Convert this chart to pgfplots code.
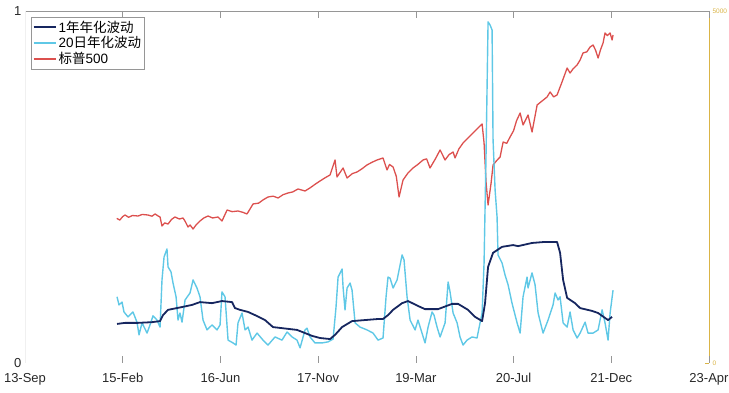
\documentclass[border=0pt]{standalone}
\usepackage{fontspec}
\setmainfont{Liberation Sans}
\newfontfamily\cjk{Noto Sans CJK SC}
\usepackage{pgfplots}
\pgfplotsset{compat=1.18}
\definecolor{navy}{RGB}{22,38,95}
\definecolor{lblue}{RGB}{95,200,230}
\definecolor{sred}{RGB}{220,80,78}
\definecolor{ryel}{RGB}{218,180,70}
\definecolor{axg}{RGB}{150,150,150}
\definecolor{txt}{RGB}{40,40,40}
\begin{document}
\begin{tikzpicture}
\begin{axis}[
  width=684pt,height=352pt,scale only axis,
  xmin=0,xmax=7,ymin=0,ymax=5000,
  axis x line=none, axis y line*=right,
  axis line style={ryel, line width=0.7pt},
  ytick={0,5000}, tick align=inside, major tick length=4pt,
  ytick style={ryel},
  yticklabel style={font=\fontsize{6.5}{7}\selectfont, text=ryel},
  /pgf/number format/1000 sep={}, /pgf/number format/assume math mode=true,
]
\addplot[sred, line width=1.3pt, line join=round] coordinates {
(0.939,2055)(0.97,2030)(1.00,2080)(1.024,2102)(1.06,2070)(1.10,2095)(1.157,2088)(1.20,2110)(1.259,2102)(1.30,2085)
(1.331,2117)(1.36,2090)(1.382,2074)(1.402,1946)(1.43,1990)(1.464,1974)
(1.50,2040)(1.535,2074)(1.58,2045)(1.617,2060)(1.64,2010)(1.668,1932)(1.69,1960)(1.720,1903)(1.75,1960)(1.791,2017)
(1.83,2060)(1.873,2088)(1.92,2060)(1.975,2074)(2.016,2017)
(2.068,2173)(2.12,2150)(2.180,2159)(2.23,2140)(2.272,2117)(2.334,2259)(2.39,2270)(2.44,2320)(2.487,2358)(2.54,2370)(2.590,2344)
(2.64,2390)(2.692,2415)(2.74,2430)(2.794,2472)
(2.866,2443)(2.92,2490)(2.97,2540)(3.019,2585)(3.07,2630)(3.122,2671)(3.173,2884)(3.193,2642)(3.255,2770)(3.296,2628)(3.35,2690)(3.398,2713)
(3.45,2760)(3.500,2813)(3.55,2850)(3.603,2884)(3.664,2912)(3.705,2742)(3.73,2820)(3.767,2784)(3.80,2650)(3.828,2358)(3.869,2600)(3.92,2700)(3.971,2770)
(4.02,2820)(4.074,2884)(4.11,2900)(4.145,2770)(4.20,2900)(4.248,3026)(4.299,2884)(4.34,2960)(4.381,2997)(4.401,2912)(4.44,3040)(4.483,3125)(4.53,3190)(4.585,3267)
(4.63,3330)(4.678,3395)(4.698,3125)(4.719,2557)(4.739,2244)(4.770,2557)(4.790,2813)(4.83,2880)(4.862,2926)(4.893,3139)
(4.93,3120)(4.964,3210)(5.00,3300)(5.03,3440)(5.067,3551)(5.097,3381)(5.148,3523)(5.189,3281)(5.241,3665)(5.29,3720)(5.343,3779)(5.374,3850)
(5.41,3780)(5.445,3807)(5.496,3992)(5.548,4190)(5.578,4119)(5.61,4180)(5.650,4233)(5.681,4304)(5.711,4404)(5.75,4420)(5.783,4489)
(5.814,4517)(5.84,4440)(5.865,4332)(5.89,4450)(5.916,4546)(5.936,4688)(5.96,4650)(5.988,4688)(6.008,4588)(6.018,4659)
};
\end{axis}
\begin{axis}[
  width=684pt,height=352pt,scale only axis,
  xmin=0,xmax=7,ymin=0,ymax=1,
  axis line style={draw=none},
  xtick={0,...,7},
  xticklabels={13-Sep,15-Feb,16-Jun,17-Nov,19-Mar,20-Jul,21-Dec,23-Apr},
  ytick={0,1}, ytick style={draw=none},
  tick align=inside, major tick length=7pt, xtick style={axg, line width=0.6pt},
  ticklabel style={font=\fontsize{13}{15}\selectfont, text=txt},
  xticklabel style={yshift=-7pt},
  /pgf/number format/assume math mode=true,
  legend style={at={(0,1)}, anchor=north west, xshift=6pt, yshift=-6pt,
    draw=axg, fill=white, font=\fontsize{13.5}{15}\selectfont, inner sep=1.5pt,
    row sep=-1pt, cells={anchor=west}},
  legend image code/.code={\draw[#1] (0pt,0pt) -- (22pt,0pt);},
]
\coordinate (sw) at (rel axis cs:0,0);
\coordinate (ne) at (rel axis cs:1,1);
\draw[axg, line width=0.6pt] (rel axis cs:0,0) -- (rel axis cs:1,0);
\draw[axg, line width=0.6pt] (rel axis cs:0,1) -- (rel axis cs:1,1);
\draw[black!6, line width=0.6pt] (rel axis cs:0,0) -- (rel axis cs:0,1);
\addlegendimage{navy, line width=1.8pt}
\addlegendentry{1{\cjk 年年化波动}}
\addlegendimage{lblue, line width=1.4pt}
\addlegendentry{20{\cjk 日年化波动}}
\addlegendimage{sred, line width=1.3pt}
\addlegendentry{{\cjk 标普}500}
\addplot[lblue, line width=1.4pt, line join=round, forget plot] coordinates {
(0.942,0.188)(0.962,0.165)(0.993,0.173)(1.013,0.145)(1.054,0.131)(1.105,0.145)(1.146,0.116)(1.167,0.080)
(1.198,0.114)(1.249,0.085)(1.279,0.108)(1.310,0.134)(1.351,0.122)(1.382,0.102)(1.402,0.236)(1.423,0.301)
(1.453,0.324)(1.464,0.273)(1.494,0.259)(1.515,0.227)(1.546,0.188)(1.566,0.122)(1.586,0.142)(1.607,0.116)
(1.638,0.179)(1.689,0.199)(1.720,0.236)(1.760,0.213)(1.791,0.188)(1.822,0.122)(1.863,0.094)(1.914,0.108)
(1.965,0.094)(1.996,0.108)(2.016,0.202)(2.047,0.188)(2.078,0.065)(2.129,0.057)(2.160,0.051)(2.180,0.114)
(2.221,0.142)(2.252,0.094)(2.283,0.102)(2.323,0.065)(2.375,0.085)(2.436,0.065)(2.487,0.051)(2.559,0.074)
(2.630,0.065)(2.682,0.088)(2.733,0.074)(2.784,0.065)(2.815,0.043)(2.866,0.094)(2.886,0.099)(2.917,0.074)
(2.968,0.057)(3.040,0.057)(3.101,0.060)(3.153,0.068)(3.183,0.159)(3.204,0.244)(3.245,0.267)(3.255,0.216)
(3.275,0.151)(3.296,0.213)(3.327,0.227)(3.347,0.207)(3.378,0.114)(3.429,0.102)(3.500,0.094)(3.562,0.085)
(3.613,0.065)(3.664,0.071)(3.695,0.188)(3.715,0.244)(3.736,0.241)(3.767,0.213)(3.808,0.236)(3.859,0.307)
(3.879,0.293)(3.910,0.188)(3.941,0.122)(3.992,0.094)(4.022,0.122)(4.063,0.085)(4.094,0.057)(4.125,0.102)
(4.166,0.145)(4.186,0.136)(4.217,0.102)(4.248,0.074)(4.299,0.114)(4.330,0.230)(4.350,0.202)(4.381,0.142)
(4.422,0.114)(4.452,0.074)(4.483,0.051)(4.524,0.065)(4.575,0.074)(4.626,0.071)(4.657,0.114)(4.678,0.142)
(4.698,0.284)(4.719,0.605)(4.739,0.969)(4.760,0.960)(4.780,0.946)(4.790,0.634)(4.811,0.491)(4.831,0.415)
(4.841,0.307)(4.882,0.284)(4.913,0.250)(4.944,0.222)(4.984,0.170)(5.036,0.114)(5.067,0.085)(5.097,0.188)
(5.138,0.244)(5.148,0.213)(5.189,0.256)(5.220,0.222)(5.251,0.142)(5.302,0.085)(5.353,0.122)(5.404,0.165)
(5.425,0.199)(5.455,0.179)(5.476,0.188)(5.507,0.114)(5.548,0.102)(5.578,0.145)(5.609,0.094)(5.650,0.071)
(5.681,0.085)(5.732,0.116)(5.762,0.085)(5.814,0.085)(5.865,0.094)(5.906,0.151)(5.936,0.114)(5.967,0.065)
(5.988,0.142)(6.018,0.207)
};
\addplot[navy, line width=1.8pt, line join=round, forget plot] coordinates {
(0.942,0.111)(1.024,0.114)(1.157,0.114)(1.300,0.116)(1.382,0.119)(1.412,0.136)(1.464,0.151)(1.607,0.159)
(1.709,0.165)(1.791,0.173)(1.914,0.170)(2.016,0.176)(2.119,0.173)(2.149,0.156)(2.201,0.151)(2.283,0.145)
(2.354,0.136)(2.456,0.122)(2.538,0.102)(2.692,0.097)(2.784,0.094)(2.866,0.085)(2.938,0.077)(3.019,0.071)
(3.122,0.068)(3.173,0.080)(3.245,0.102)(3.347,0.119)(3.480,0.122)(3.613,0.125)(3.664,0.125)(3.715,0.136)
(3.767,0.151)(3.859,0.170)(3.920,0.176)(4.022,0.162)(4.094,0.153)(4.227,0.153)(4.371,0.168)(4.432,0.168)
(4.534,0.151)(4.606,0.131)(4.678,0.119)(4.708,0.170)(4.739,0.273)(4.790,0.313)(4.882,0.330)(4.995,0.335)
(5.046,0.332)(5.189,0.341)(5.322,0.344)(5.445,0.344)(5.476,0.313)(5.507,0.236)(5.548,0.185)(5.629,0.170)
(5.681,0.156)(5.803,0.148)(5.865,0.142)(5.936,0.128)(5.967,0.122)(6.008,0.131)
};
\end{axis}
\pgfresetboundingbox
\path[use as bounding box] ([shift={(-25pt,-30pt)}]sw) rectangle ([shift={(20pt,11pt)}]ne);
\end{tikzpicture}
\end{document}
